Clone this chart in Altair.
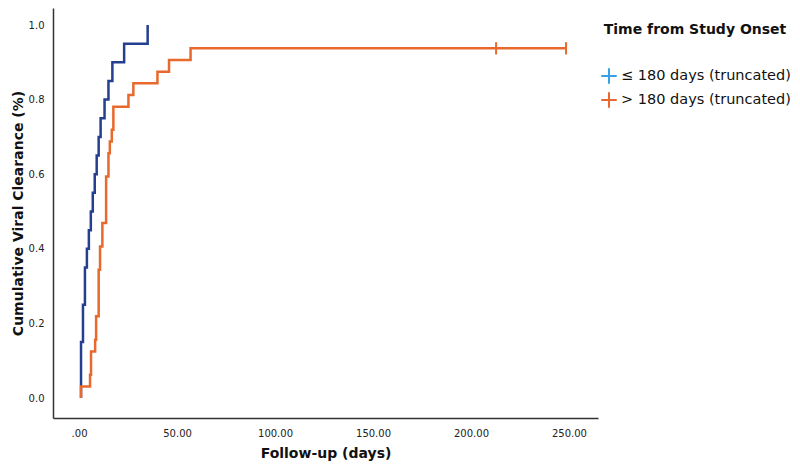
import altair as alt
import pandas as pd

# Group labels
groups = ["≤ 180 days (truncated)", "> 180 days (truncated)"]

# ≤ 180 days group: event days and cumulative clearance
blue_days = [1, 1, 2, 3, 4, 5, 6, 7, 8, 9, 10, 11, 13, 15, 17, 23, 35]
blue_cum = [0.0, 0.15, 0.25, 0.35, 0.40, 0.45, 0.50, 0.55, 0.60, 0.65,
            0.70, 0.75, 0.80, 0.85, 0.90, 0.95, 1.00]

# > 180 days group
orange_days = [1, 1, 5.6, 6.1, 8.2, 8.7, 10, 10.7, 11.9, 13.8, 15, 15.7,
               16.7, 17.5, 25.2, 27.7, 40, 45.9, 56.9, 248.5]
orange_cum = [0.0, 0.031, 0.0625, 0.125, 0.156, 0.219, 0.344, 0.406, 0.469,
              0.594, 0.656, 0.6875, 0.719, 0.781, 0.8125, 0.844, 0.875,
              0.906, 0.9375, 0.9375]

# censored observations (> 180 days group)
cens_days = [212.8, 248.5]
cens_cum = [0.9375, 0.9375]

x_ticks = [0, 50, 100, 150, 200, 250]
y_ticks = [0.0, 0.2, 0.4, 0.6, 0.8, 1.0]

line_df = pd.concat([
    pd.DataFrame({"day": blue_days, "cum": blue_cum, "group": groups[0],
                  "i": range(len(blue_days))}),
    pd.DataFrame({"day": orange_days, "cum": orange_cum, "group": groups[1],
                  "i": range(len(orange_days))}),
])
cens_df = pd.DataFrame({"day": cens_days, "cum": cens_cum, "group": groups[1]})

FONT = "DejaVu Sans"
xscale = alt.Scale(domain=[-13.3, 264.8], nice=False, zero=False)
yscale = alt.Scale(domain=[-0.0536, 1.0456], nice=False, zero=False)

xaxis = alt.Axis(title="Follow-up (days)", values=x_ticks,
                 labelExpr="datum.value == 0 ? '.00' : format(datum.value, '.2f')",
                 ticks=False, grid=False, labelPadding=10, titlePadding=8,
                 labelFontSize=10, titleFontSize=14, titleFontWeight="bold",
                 labelFont=FONT, titleFont=FONT, domainColor="#333333",
                 domainWidth=1.5, labelColor="#222222", titleColor="#111111")
yaxis = alt.Axis(title="Cumulative Viral Clearance (%)", values=y_ticks,
                 format=".1f", ticks=False, grid=False, labelPadding=9,
                 titlePadding=3, labelFontSize=10, titleFontSize=14,
                 titleFontWeight="bold", labelFont=FONT, titleFont=FONT,
                 domainColor="#333333", domainWidth=1.5, labelColor="#222222",
                 titleColor="#111111")

lines = alt.Chart(line_df).mark_line(interpolate="step-after", strokeWidth=2.5).encode(
    x=alt.X("day:Q", scale=xscale, axis=xaxis),
    y=alt.Y("cum:Q", scale=yscale, axis=yaxis),
    color=alt.Color("group:N", scale=alt.Scale(domain=groups,
                                               range=["#243f8f", "#e8692d"]),
                    legend=None),
    order="i:Q",
)

cens = alt.Chart(cens_df).mark_point(shape="M0,-1V1", size=150, filled=False,
                                     strokeWidth=2, opacity=1).encode(
    x=alt.X("day:Q", scale=xscale),
    y=alt.Y("cum:Q", scale=yscale),
    color=alt.Color("group:N",
                    scale=alt.Scale(domain=groups, range=["#3aa0e6", "#e8692d"]),
                    legend=alt.Legend(
                        title="Time from Study Onset", orient="none",
                        legendX=547, legendY=15, titleAnchor="middle",
                        titleAlign="center",
                        titleFontSize=14, titleFontWeight="bold", titleFont=FONT,
                        titleColor="#111111", titlePadding=30, titleLimit=400,
                        labelFontSize=14.5, labelFont=FONT, labelColor="#111111",
                        labelLimit=400,
                        symbolType="M-1,0H1M0,-1V1", symbolSize=240,
                        symbolStrokeWidth=2, symbolOpacity=1, rowPadding=0,
                        labelOffset=3, padding=0)),
)

chart = alt.layer(lines, cens).resolve_scale(color="independent").properties(
    width=545, height=410,
    autosize=alt.AutoSizeParams(type="none"),
    padding={"left": 45, "top": 0, "right": 194, "bottom": 50},
).configure_view(stroke=None)

chart.save("out.html", embed_options={"renderer": "svg", "actions": False})
